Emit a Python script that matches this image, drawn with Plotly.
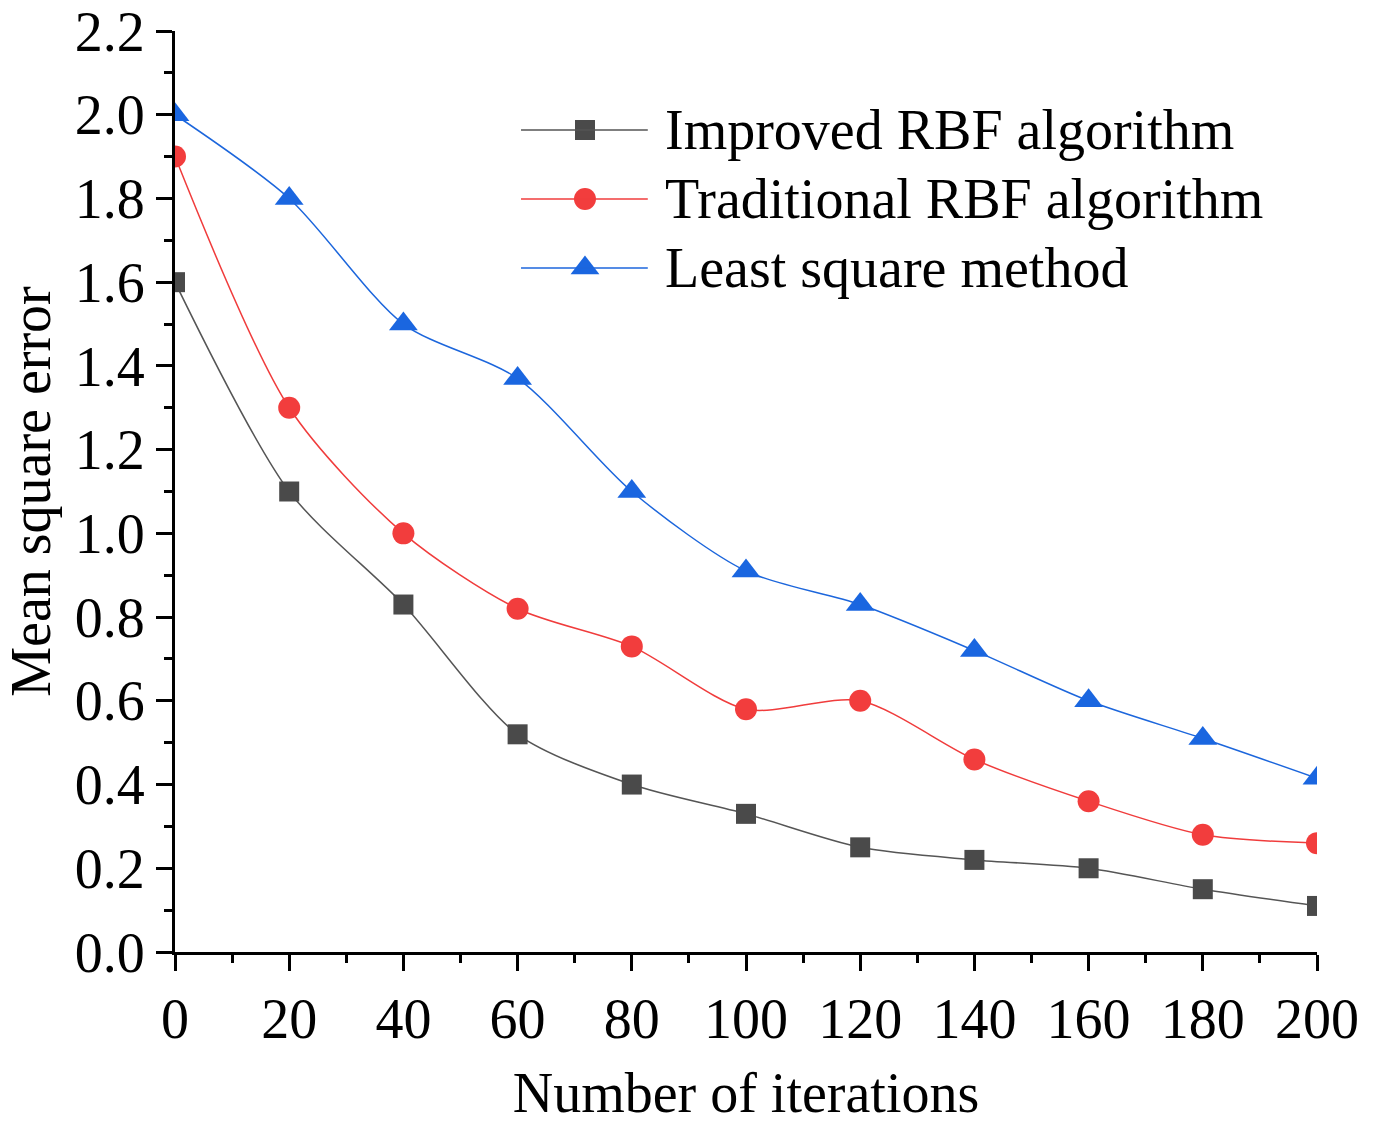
import plotly.graph_objects as go

iterations = [0, 20, 40, 60, 80, 100, 120, 140, 160, 180, 200]
improved_rbf = [1.60, 1.10, 0.83, 0.52, 0.40, 0.33, 0.25, 0.22, 0.20, 0.15, 0.11]
traditional_rbf = [1.90, 1.30, 1.00, 0.82, 0.73, 0.58, 0.60, 0.46, 0.36, 0.28, 0.26]
least_square = [2.00, 1.80, 1.50, 1.37, 1.10, 0.91, 0.83, 0.72, 0.60, 0.51, 0.415]

names = ["Improved RBF algorithm", "Traditional RBF algorithm", "Least square method"]
line_colors = ["#555555", "#F03C3C", "#1C66DC"]
marker_colors = ["#4A4A4A", "#F23D3D", "#1A66E0"]
symbols = ["square", "circle", "triangle-up"]
msizes = [20, 22, 25]

FONT = "Liberation Serif, Times New Roman, serif"
FS = 56

fig = go.Figure()
for ys, n, lc, mc, s, ms in zip([improved_rbf, traditional_rbf, least_square], names,
                                line_colors, marker_colors, symbols, msizes):
    fig.add_trace(go.Scatter(
        x=iterations, y=ys, name=n, mode="lines+markers",
        line=dict(color=lc, width=1.5, shape="spline", smoothing=0.8),
        marker=dict(symbol=s, size=ms, color=mc, line=dict(width=0)),
        cliponaxis=True, showlegend=False,
    ))

# custom legend (paper-like coordinates on a hidden axis pair)
leg_x0, leg_x1, leg_mx, leg_tx = 0.303, 0.414, 0.359, 0.427
leg_y = [0.8925, 0.8176, 0.7427]
for i in range(3):
    fig.add_shape(type="line", xref="paper", yref="paper",
                  x0=leg_x0, x1=leg_x1, y0=leg_y[i], y1=leg_y[i],
                  line=dict(color=line_colors[i], width=1.5))
    fig.add_trace(go.Scatter(
        x=[leg_mx], y=[leg_y[i]], xaxis="x2", yaxis="y2", mode="markers",
        marker=dict(symbol=symbols[i], size=msizes[i], color=marker_colors[i]),
        showlegend=False, hoverinfo="skip", cliponaxis=False))
    fig.add_annotation(x=leg_tx, y=leg_y[i], xref="paper", yref="paper",
                       text=names[i], showarrow=False, xanchor="left", yanchor="middle",
                       font=dict(family=FONT, size=FS, color="black"))

fig.update_layout(
    width=1376, height=1124,
    margin=dict(l=175, r=59, t=31, b=172),
    paper_bgcolor="white", plot_bgcolor="rgba(0,0,0,0)",
    font=dict(family=FONT, size=FS, color="black"),
    xaxis=dict(
        range=[0, 200], tickmode="array", tickvals=iterations, automargin=False,
        ticks="outside", ticklen=16, tickwidth=3, tickcolor="black",
        showline=True, linecolor="black", linewidth=3, showgrid=False, zeroline=False,
        minor=dict(ticks="outside", ticklen=8, tickwidth=3, tickcolor="black", dtick=10, tick0=0, showgrid=False),
        tickfont=dict(size=FS),
        title=dict(text="Number of iterations", font=dict(size=FS), standoff=38),
    ),
    yaxis=dict(
        range=[0, 2.2], dtick=0.2, tick0=0, tickformat=".1f", automargin=False,
        ticks="outside", ticklen=16, tickwidth=3, tickcolor="black",
        showline=True, linecolor="black", linewidth=3, showgrid=False, zeroline=False,
        minor=dict(ticks="outside", ticklen=8, tickwidth=3, tickcolor="black", dtick=0.1, tick0=0, showgrid=False),
        tickfont=dict(size=FS),
        title=dict(text="Mean square error", font=dict(size=FS), standoff=14),
    ),
    xaxis2=dict(domain=[0, 1], range=[0, 1], visible=False, anchor="y2", fixedrange=True),
    yaxis2=dict(domain=[0, 1], range=[0, 1], visible=False, anchor="x2", fixedrange=True),
)

fig.write_html("out.html")
